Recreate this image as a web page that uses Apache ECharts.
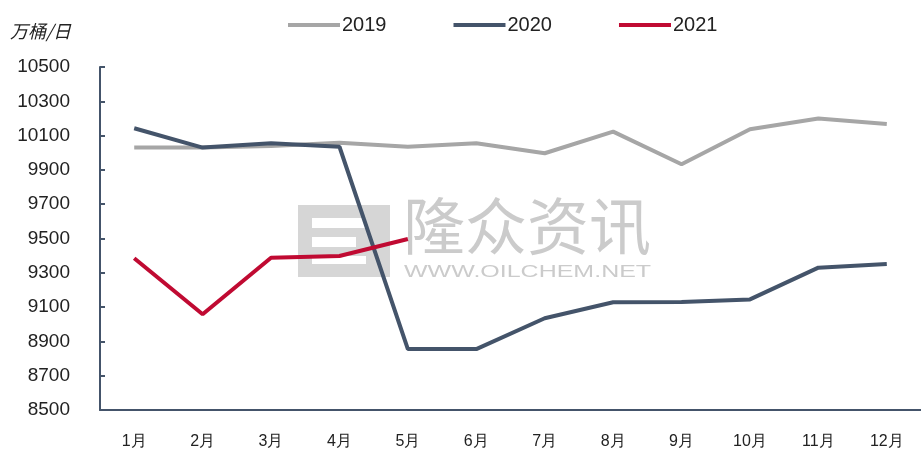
<!DOCTYPE html>
<html>
<head>
<meta charset="utf-8">
<title>chart</title>
<script src="https://cdn.jsdelivr.net/npm/echarts@6/dist/echarts.min.js"></script>
<style>
  html, body { margin: 0; padding: 0; background: #fff; }
  #chart { width: 921px; height: 450px; }
</style>
</head>
<body>
<div id="chart"></div>
<script>
// months on the x axis
const months = ['1月', '2月', '3月', '4月', '5月', '6月', '7月', '8月', '9月', '10月', '11月', '12月']

// 万桶/日
const data2019 = [10030, 10030, 10040, 10058, 10035, 10055, 9997, 10123, 9933, 10137, 10200, 10168]
const data2020 = [10143, 10030, 10055, 10035, 8855, 8855, 9035, 9128, 9130, 9145, 9330, 9351]
const data2021 = [9385, 9058, 9388, 9398, 9497]

const chart = echarts.init(document.getElementById('chart'))

const font = '"Liberation Sans", Arial, sans-serif'
const cjk = '"Noto Sans CJK SC", sans-serif'
const axisColor = '#44546A'
const wmColor = '#cbcbcb'

function lineSeries(name, data, color) {
  return {
    name: name,
    type: 'line',
    data: data,
    symbol: 'none',
    smooth: false,
    lineStyle: { color: color, width: 4 },
    itemStyle: { color: color },
    z: 3
  }
}

const option = {
  animation: false,
  backgroundColor: '#fff',
  textStyle: { fontFamily: font },
  legend: {
    top: 10,
    left: 283,
    itemWidth: 52,
    itemHeight: 4,
    itemGap: 67,
    icon: 'rect',
    textStyle: { fontSize: 20, color: '#222', fontFamily: font, padding: [0, 0, 0, -3] },
    data: ['2019', '2020', '2021']
  },
  graphic: [
    {
      type: 'text',
      left: 10,
      top: 22,
      style: { text: '万桶/日', fontSize: 18, fill: '#222', fontStyle: 'italic', fontFamily: cjk }
    },
    // watermark
    {
      type: 'group',
      left: 298,
      top: 195,
      z: 0,
      children: [
        { type: 'rect', shape: { x: 0, y: 0, width: 92, height: 72 }, style: { fill: '#d6d6d6' } },
        { type: 'rect', shape: { x: 14, y: 13, width: 54, height: 10 }, style: { fill: '#fff' } },
        { type: 'rect', shape: { x: 14, y: 32, width: 44, height: 10 }, style: { fill: '#fff' } },
        { type: 'rect', shape: { x: 14, y: 51, width: 54, height: 8 }, style: { fill: '#fff' } },
        {
          type: 'text', x: 105, y: -10,
          style: { text: '隆众资讯', fontSize: 62, fill: wmColor, fontFamily: cjk }
        },
        {
          type: 'text', x: 106, y: 59, scaleX: 1.47,
          style: { text: 'WWW.OILCHEM.NET', fontSize: 17, fill: wmColor, fontFamily: font }
        }
      ]
    }
  ],
  grid: {
    left: 100,
    top: 67,
    width: 833,
    bottom: 40,
    containLabel: false
  },
  xAxis: {
    type: 'category',
    data: months,
    boundaryGap: true,
    axisLine: { lineStyle: { color: axisColor, width: 2 } },
    axisTick: { inside: true, length: 5, lineStyle: { color: axisColor, width: 2 } },
    axisLabel: { fontSize: 16, color: '#222', margin: 24, fontFamily: font },
    splitLine: { show: false }
  },
  yAxis: {
    type: 'value',
    min: 8500,
    max: 10500,
    interval: 200,
    axisLine: { show: true, lineStyle: { color: axisColor, width: 2 } },
    axisTick: { show: true, inside: true, length: 5, lineStyle: { color: axisColor, width: 2 } },
    axisLabel: { fontSize: 19, color: '#222', margin: 30, fontFamily: font, formatter: v => String(v) },
    splitLine: { show: false }
  },
  series: [
    lineSeries('2019', data2019, '#A6A6A6'),
    lineSeries('2020', data2020, '#44546A'),
    lineSeries('2021', data2021, '#C00A32')
  ]
}

chart.setOption(option)
</script>
</body>
</html>
